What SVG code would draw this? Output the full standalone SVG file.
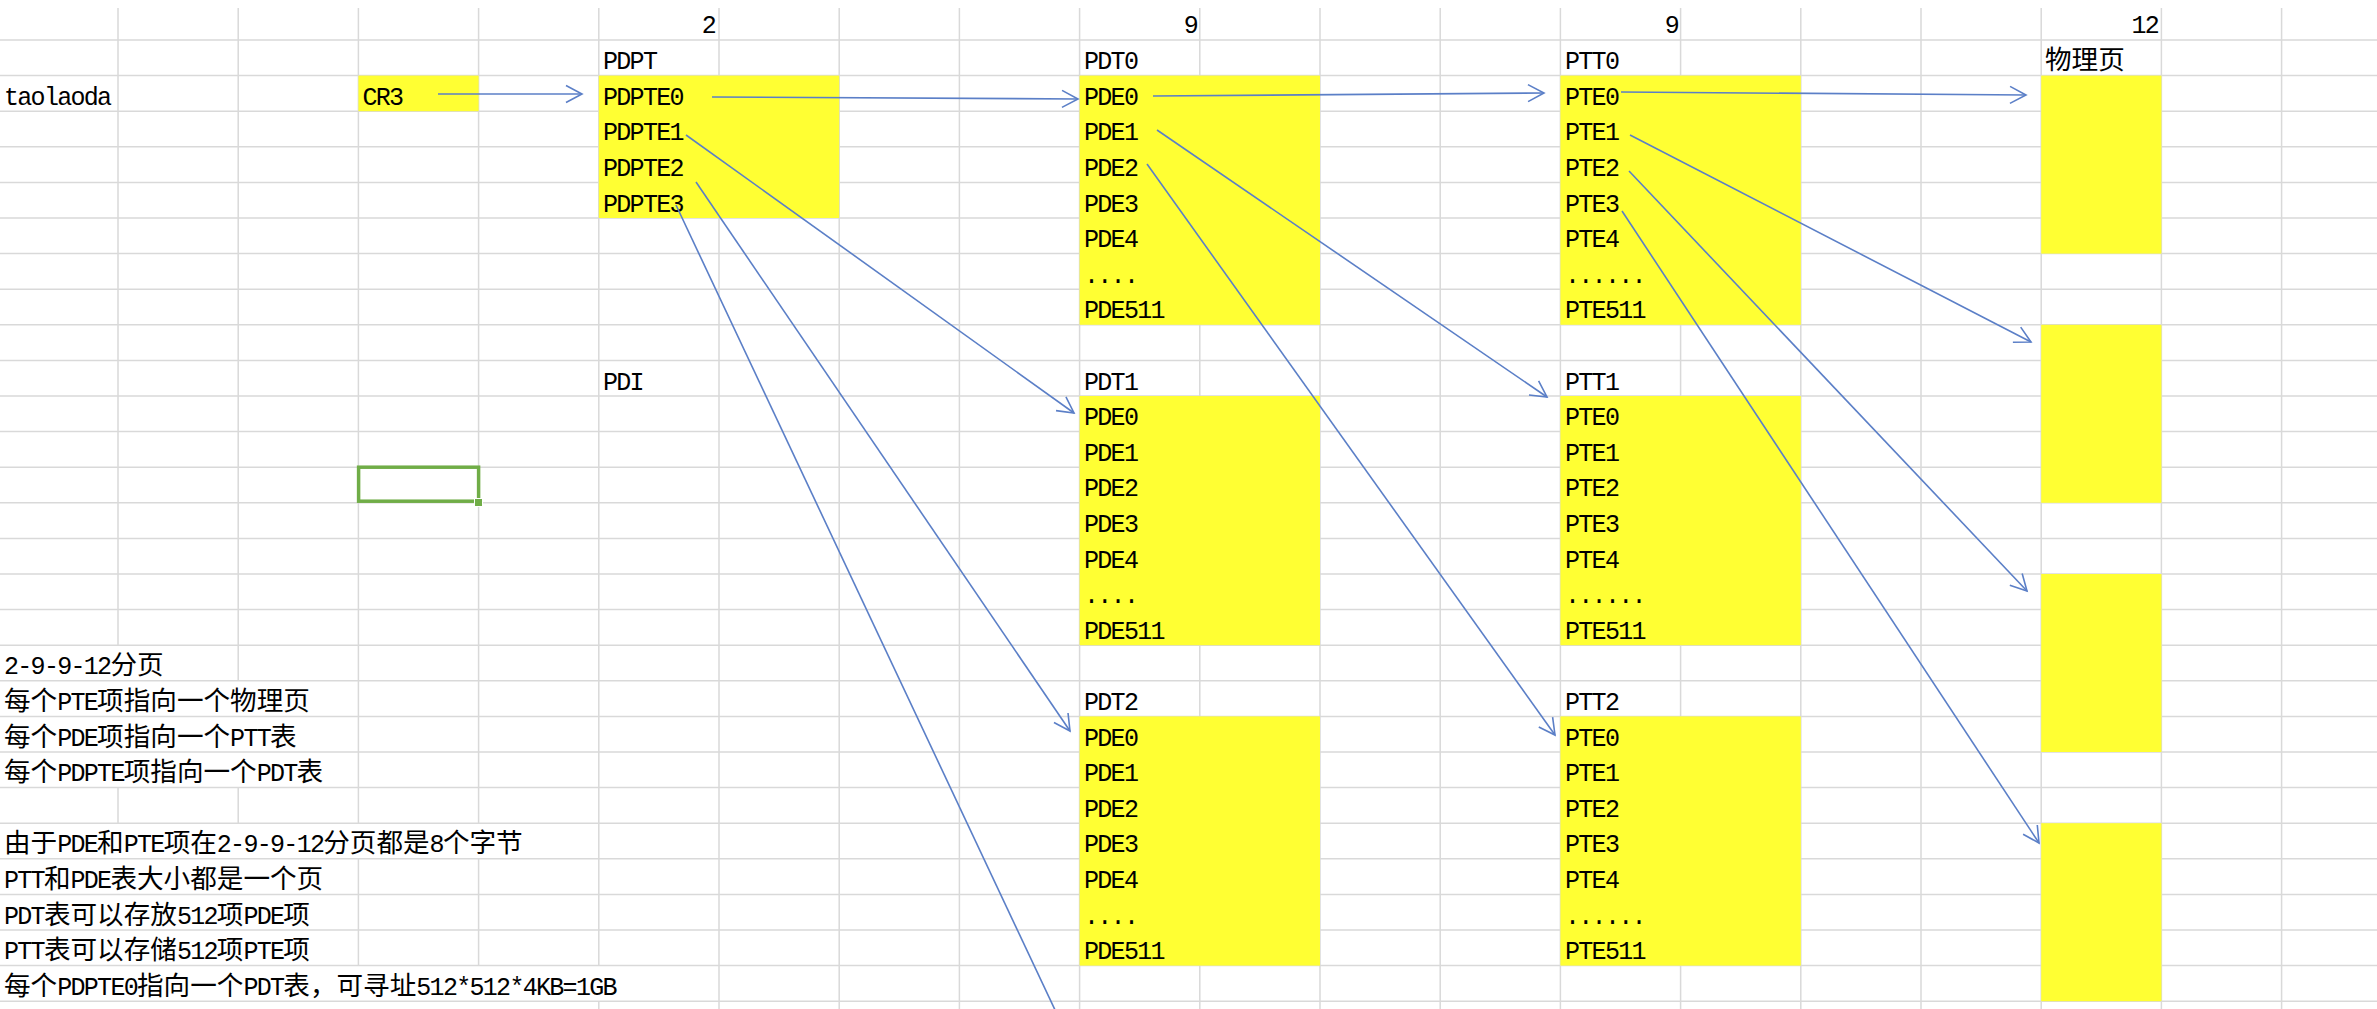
<svg xmlns="http://www.w3.org/2000/svg" width="2377" height="1009" viewBox="0 0 2377 1009">
<style>
.grid{stroke:#d9d9d9;stroke-width:1.5;fill:none}
.y{fill:#ffff33}
.t{font-family:"Liberation Mono","Noto Sans CJK SC",monospace;font-size:25px;letter-spacing:-1.7px;fill:#000}
.c{font-family:"Noto Sans CJK SC",sans-serif;font-size:26.6px;letter-spacing:0}
.n{text-anchor:end}
.a{stroke:#5b7fc7;stroke-width:1.6;fill:none;marker-end:url(#ah)}
</style>
<defs>
<marker id="ah" markerUnits="userSpaceOnUse" viewBox="-18 -10 20 20" refX="0" refY="0" markerWidth="20" markerHeight="20" orient="auto" overflow="visible">
<path d="M-16,-8.5 L0,0 L-16,8.5" fill="none" stroke="#5b7fc7" stroke-width="1.6"/>
</marker>
</defs>
<rect width="2377" height="1009" fill="#fff"/>
<g id="grid">
<path class="grid" d="M0,40H2377M0,75.6H2377M0,111.2H2377M0,146.8H2377M0,182.4H2377M0,218H2377M0,253.6H2377M0,289.2H2377M0,324.8H2377M0,360.4H2377M0,396H2377M0,431.6H2377M0,467.2H2377M0,502.8H2377M0,538.4H2377M0,574H2377M0,609.6H2377M0,645.2H2377M0,680.8H2377M0,716.4H2377M0,752H2377M0,787.6H2377M0,823.2H2377M0,858.8H2377M0,894.4H2377M0,930H2377M0,965.6H2377M0,1001.2H2377"/>
<path class="grid" d="M118,8V645.2M118,787.6V823.2M238.2,8V680.8M238.2,787.6V823.2M358.4,8V823.2M358.4,858.8V965.6M478.6,8V823.2M478.6,858.8V965.6M598.8,8V965.6M598.8,1001.2V1009M719,8V1009M839.2,8V1009M959.4,8V1009M1079.6,8V1009M1199.8,8V1009M1320,8V1009M1440.2,8V1009M1560.4,8V1009M1680.6,8V1009M1800.8,8V1009M1921,8V1009M2041.2,8V1009M2161.4,8V1009M2281.6,8V1009"/>
</g>
<g id="header">
<text class="t n" x="715" y="32.5">2</text>
<text class="t n" x="1197" y="32.5">9</text>
<text class="t n" x="1678" y="32.5">9</text>
<text class="t n" x="2158" y="32.5">12</text>
</g>
<g id="taolaoda"><text class="t" x="4" y="104.7">taolaoda</text></g>
<g id="cr3">
<rect class="y" x="358.4" y="75.6" width="120.2" height="35.6"/>
<text class="t" x="362.5" y="104.7">CR3</text>
</g>
<g id="pdpt">
<text class="t" x="603" y="69.1">PDPT</text>
<rect class="y" x="598.8" y="75.6" width="240.4" height="142.4"/>
<text class="t" x="603" y="104.7">PDPTE0</text>
<text class="t" x="603" y="140.3">PDPTE1</text>
<text class="t" x="603" y="175.9">PDPTE2</text>
<text class="t" x="603" y="211.5">PDPTE3</text>
</g>
<g id="pdi"><text class="t" x="603" y="389.5">PDI</text></g>
<g id="pdt0">
<text class="t" x="1084" y="69.1">PDT0</text>
<rect class="y" x="1079.6" y="75.6" width="240.4" height="249.2"/>
<text class="t" x="1084" y="104.7">PDE0</text>
<text class="t" x="1084" y="140.3">PDE1</text>
<text class="t" x="1084" y="175.9">PDE2</text>
<text class="t" x="1084" y="211.5">PDE3</text>
<text class="t" x="1084" y="247.1">PDE4</text>
<text class="t" x="1084" y="282.7">....</text>
<text class="t" x="1084" y="318.3">PDE511</text>
</g>
<g id="pdt1">
<text class="t" x="1084" y="389.5">PDT1</text>
<rect class="y" x="1079.6" y="396" width="240.4" height="249.2"/>
<text class="t" x="1084" y="425.1">PDE0</text>
<text class="t" x="1084" y="460.7">PDE1</text>
<text class="t" x="1084" y="496.3">PDE2</text>
<text class="t" x="1084" y="531.9">PDE3</text>
<text class="t" x="1084" y="567.5">PDE4</text>
<text class="t" x="1084" y="603.1">....</text>
<text class="t" x="1084" y="638.7">PDE511</text>
</g>
<g id="pdt2">
<text class="t" x="1084" y="709.9">PDT2</text>
<rect class="y" x="1079.6" y="716.4" width="240.4" height="249.2"/>
<text class="t" x="1084" y="745.5">PDE0</text>
<text class="t" x="1084" y="781.1">PDE1</text>
<text class="t" x="1084" y="816.7">PDE2</text>
<text class="t" x="1084" y="852.3">PDE3</text>
<text class="t" x="1084" y="887.9">PDE4</text>
<text class="t" x="1084" y="923.5">....</text>
<text class="t" x="1084" y="959.1">PDE511</text>
</g>
<g id="ptt0">
<text class="t" x="1565" y="69.1">PTT0</text>
<rect class="y" x="1560.4" y="75.6" width="240.4" height="249.2"/>
<text class="t" x="1565" y="104.7">PTE0</text>
<text class="t" x="1565" y="140.3">PTE1</text>
<text class="t" x="1565" y="175.9">PTE2</text>
<text class="t" x="1565" y="211.5">PTE3</text>
<text class="t" x="1565" y="247.1">PTE4</text>
<text class="t" x="1565" y="282.7">......</text>
<text class="t" x="1565" y="318.3">PTE511</text>
</g>
<g id="ptt1">
<text class="t" x="1565" y="389.5">PTT1</text>
<rect class="y" x="1560.4" y="396" width="240.4" height="249.2"/>
<text class="t" x="1565" y="425.1">PTE0</text>
<text class="t" x="1565" y="460.7">PTE1</text>
<text class="t" x="1565" y="496.3">PTE2</text>
<text class="t" x="1565" y="531.9">PTE3</text>
<text class="t" x="1565" y="567.5">PTE4</text>
<text class="t" x="1565" y="603.1">......</text>
<text class="t" x="1565" y="638.7">PTE511</text>
</g>
<g id="ptt2">
<text class="t" x="1565" y="709.9">PTT2</text>
<rect class="y" x="1560.4" y="716.4" width="240.4" height="249.2"/>
<text class="t" x="1565" y="745.5">PTE0</text>
<text class="t" x="1565" y="781.1">PTE1</text>
<text class="t" x="1565" y="816.7">PTE2</text>
<text class="t" x="1565" y="852.3">PTE3</text>
<text class="t" x="1565" y="887.9">PTE4</text>
<text class="t" x="1565" y="923.5">......</text>
<text class="t" x="1565" y="959.1">PTE511</text>
</g>
<g id="physical-pages">
<text class="t" x="2045" y="69.1"><tspan class="c">物理页</tspan></text>
<rect class="y" x="2041.2" y="75.6" width="120.2" height="178"/>
<rect class="y" x="2041.2" y="324.8" width="120.2" height="178"/>
<rect class="y" x="2041.2" y="574" width="120.2" height="178"/>
<rect class="y" x="2041.2" y="823.2" width="120.2" height="178"/>
</g>
<g id="selection">
<rect x="358.6" y="467.2" width="120" height="34" fill="none" stroke="#70ad47" stroke-width="3.5"/>
<rect x="474.5" y="498.5" width="8" height="8" fill="#70ad47" stroke="#fff" stroke-width="1"/>
</g>
<g id="notes">
<text class="t" x="4" y="674.3">2-9-9-12<tspan class="c">分页</tspan></text>
<text class="t" x="4" y="709.9"><tspan class="c">每个</tspan>PTE<tspan class="c">项指向一个物理页</tspan></text>
<text class="t" x="4" y="745.5"><tspan class="c">每个</tspan>PDE<tspan class="c">项指向一个</tspan>PTT<tspan class="c">表</tspan></text>
<text class="t" x="4" y="781.1"><tspan class="c">每个</tspan>PDPTE<tspan class="c">项指向一个</tspan>PDT<tspan class="c">表</tspan></text>
<text class="t" x="4" y="852.3"><tspan class="c">由于</tspan>PDE<tspan class="c">和</tspan>PTE<tspan class="c">项在</tspan>2-9-9-12<tspan class="c">分页都是</tspan>8<tspan class="c">个字节</tspan></text>
<text class="t" x="4" y="887.9">PTT<tspan class="c">和</tspan>PDE<tspan class="c">表大小都是一个页</tspan></text>
<text class="t" x="4" y="923.5">PDT<tspan class="c">表可以存放</tspan>512<tspan class="c">项</tspan>PDE<tspan class="c">项</tspan></text>
<text class="t" x="4" y="959.1">PTT<tspan class="c">表可以存储</tspan>512<tspan class="c">项</tspan>PTE<tspan class="c">项</tspan></text>
<text class="t" x="4" y="994.7"><tspan class="c">每个</tspan>PDPTE0<tspan class="c">指向一个</tspan>PDT<tspan class="c">表，可寻址</tspan>512*512*4KB=1GB</text>
</g>
<g id="connectors">
<line class="a" x1="438" y1="94" x2="582" y2="94"/>
<line class="a" x1="712" y1="97" x2="1078" y2="99"/>
<line class="a" x1="1153" y1="96" x2="1544" y2="93"/>
<line class="a" x1="1621" y1="92" x2="2026" y2="95"/>
<line class="a" x1="686" y1="135" x2="1074" y2="413"/>
<line class="a" x1="696" y1="182" x2="1070" y2="731"/>
<line x1="676" y1="205" x2="1056" y2="1012" stroke="#5b7fc7" stroke-width="1.6"/>
<line class="a" x1="1157" y1="130" x2="1547" y2="397"/>
<line class="a" x1="1147" y1="164" x2="1555" y2="735"/>
<line class="a" x1="1630" y1="135" x2="2031" y2="342"/>
<line class="a" x1="1629" y1="171" x2="2027" y2="591"/>
<line class="a" x1="1622" y1="211" x2="2039" y2="843"/>
</g>
</svg>
